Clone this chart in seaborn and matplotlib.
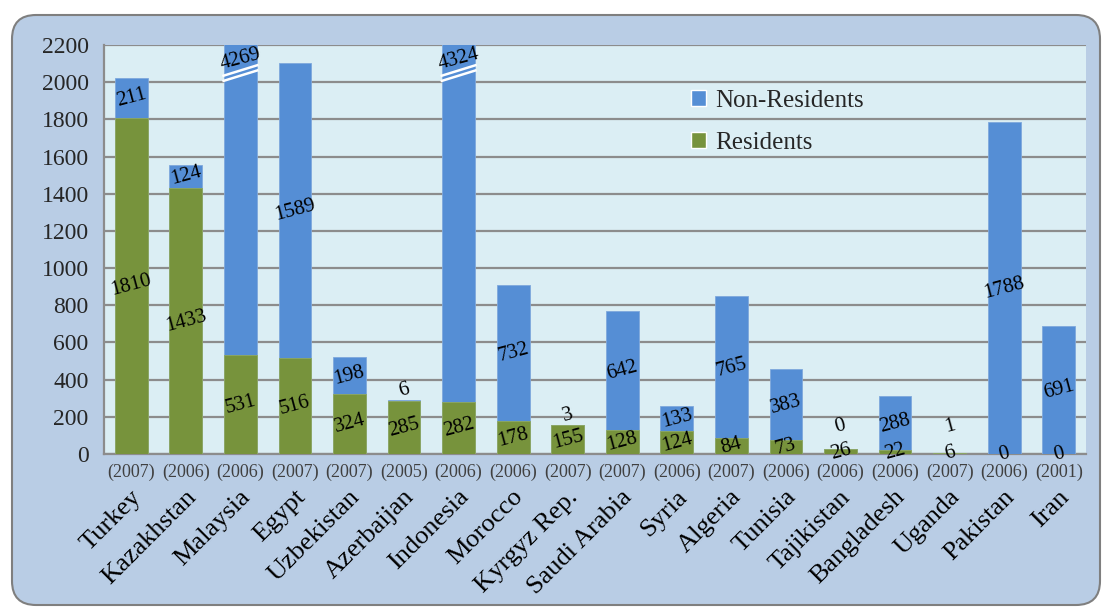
import matplotlib
matplotlib.use("Agg")
import matplotlib.pyplot as plt
from matplotlib.patches import FancyBboxPatch, Patch
from matplotlib.transforms import IdentityTransform
import seaborn as sns
import pandas as pd

# data
countries = ["Turkey", "Kazakhstan", "Malaysia", "Egypt", "Uzbekistan", "Azerbaijan",
             "Indonesia", "Morocco", "Kyrgyz Rep.", "Saudi Arabia", "Syria", "Algeria",
             "Tunisia", "Tajikistan", "Bangladesh", "Uganda", "Pakistan", "Iran"]
years = ["(2007)", "(2006)", "(2006)", "(2007)", "(2007)", "(2005)", "(2006)", "(2006)",
         "(2007)", "(2007)", "(2006)", "(2007)", "(2006)", "(2006)", "(2006)", "(2007)",
         "(2006)", "(2001)"]
residents = [1810, 1433, 531, 516, 324, 285, 282, 178, 155, 128, 124, 84, 73, 26, 22, 6, 0, 0]
non_residents = [211, 124, 4269, 1589, 198, 6, 4324, 732, 3, 642, 133, 765, 383, 0, 288, 1, 1788, 691]

df = pd.DataFrame({"country": countries, "year": years,
                   "Residents": residents, "Non-Residents": non_residents})
df["total"] = df["Residents"] + df["Non-Residents"]

BLUE = "#558ED5"
GREEN = "#77933C"
YMAX = 2200

sns.set_style("white")
plt.rcParams["font.family"] = ["Liberation Serif", "DejaVu Serif"]

fig = plt.figure(figsize=(11.02, 6.08), dpi=100)
fig.patch.set_facecolor("white")

# rounded background panel (pixel coords)
panel = FancyBboxPatch((12, 3), 1088, 590, boxstyle="round,pad=0,rounding_size=24",
                       transform=IdentityTransform(), facecolor="#B9CDE5",
                       edgecolor="#7F7F7F", linewidth=1.5, zorder=-10)
fig.patches.append(panel)

ax = fig.add_axes([104 / 1102, 1 - 454 / 608, 982 / 1102, 409 / 608])
ax.set_facecolor("#DBEEF4")

sns.barplot(data=df, x="country", y="total", order=countries, color=BLUE,
            saturation=1, width=0.6, edgecolor="#7FA8DC", linewidth=0.6, ax=ax, zorder=3)
sns.barplot(data=df, x="country", y="Residents", order=countries, color=GREEN,
            saturation=1, width=0.6, edgecolor="#8FA860", linewidth=0.6, ax=ax, zorder=3)

ax.set_ylim(0, YMAX)
ax.set_xlim(-0.5, len(countries) - 0.5)
ax.set_yticks(range(0, YMAX + 1, 200))
ax.yaxis.grid(True, color="#8C8C8C", linewidth=1.6, zorder=1)
ax.set_axisbelow(True)
ax.set_xlabel("")
ax.set_ylabel("")

for s in ["top", "right"]:
    ax.spines[s].set_visible(False)
for s in ["left", "bottom"]:
    ax.spines[s].set_color("#8C8C8C")
    ax.spines[s].set_linewidth(1.6)

ax.set_xticks(range(len(countries)))
ax.set_xticklabels(years, fontsize=13, color="#404040")
ax.tick_params(axis="x", which="major", length=0, pad=7)
ax.set_xticks([i - 0.5 for i in range(len(countries) + 1)], minor=True)
ax.tick_params(axis="x", which="minor", length=6, width=1.6, color="#8C8C8C")
ax.tick_params(axis="y", length=6, width=1.6, color="#8C8C8C", labelsize=17, pad=5)

# country names, rotated under the year labels
xform = ax.get_xaxis_transform()
for i, name in enumerate(countries):
    ax.text(i - 0.02, -0.078, name, transform=xform, rotation=45, rotation_mode="anchor",
            ha="right", va="top", fontsize=19, color="black")

# value labels
lab_kw = dict(rotation=15, ha="center", va="center", fontsize=15, color="black", zorder=5)
for i, row in df.iterrows():
    r, n, t = row["Residents"], row["Non-Residents"], row["total"]
    ax.text(i, r / 2, str(r), **lab_kw)
    if t > YMAX:
        ax.text(i, YMAX - 75, str(n), **lab_kw)
        # break marks on clipped bars
        for off in (0, 28):
            ax.plot([i - 0.33, i + 0.33], [2005 + off, 2065 + off], color="white",
                    linewidth=1.8, zorder=4, solid_capstyle="butt")
    elif n < 40:
        ax.text(i, max(t, 100) + 50, str(n), **lab_kw)
    else:
        ax.text(i, r + n / 2, str(n), **lab_kw)

handles = [Patch(facecolor=BLUE, label="Non-Residents"),
           Patch(facecolor=GREEN, label="Residents")]
ax.legend(handles=handles, loc="upper left", bbox_to_anchor=(0.575, 0.945), frameon=False,
          fontsize=18, handlelength=0.6, handleheight=0.6, handletextpad=0.35,
          labelspacing=0.8)

fig.savefig("out.png", dpi=100)
